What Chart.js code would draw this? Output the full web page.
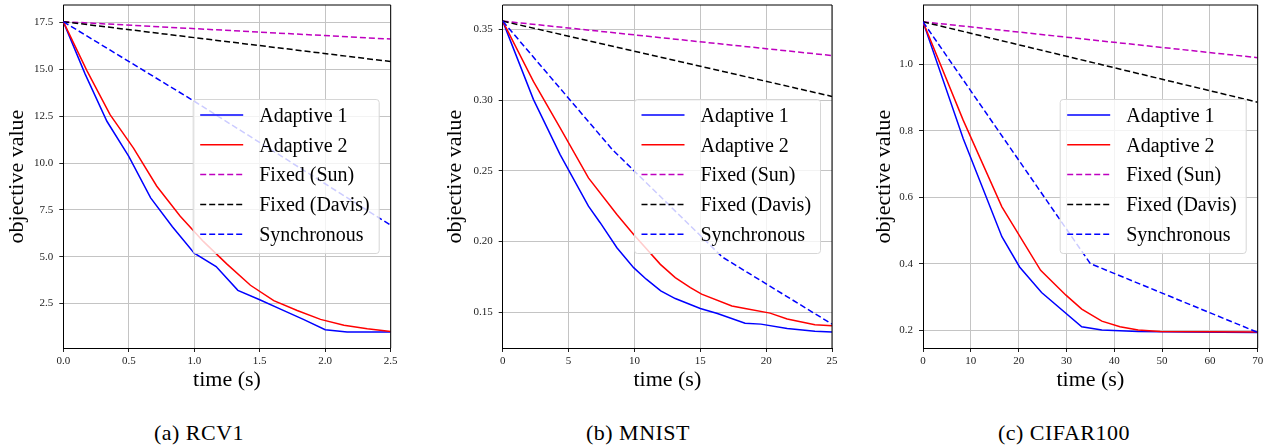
<!DOCTYPE html>
<html>
<head>
<meta charset="utf-8">
<script src="https://cdn.jsdelivr.net/npm/chart.js@4.4.1/dist/chart.umd.min.js"></script>
<style>
  body { margin: 0; background: #fff; width: 1270px; height: 447px; position: relative; overflow: hidden; }
  canvas { position: absolute; top: 0; }
  .caption { position: absolute; top: 420px; font: 22px "Liberation Serif", serif; letter-spacing: 0.5px; color: #000; transform: translateX(-50%); white-space: nowrap; }
</style>
</head>
<body>
<canvas id="rcv1" width="400" height="400" style="left:0px"></canvas>
<canvas id="mnist" width="402" height="400" style="left:438px"></canvas>
<canvas id="cifar" width="403" height="400" style="left:867px"></canvas>
<div class="caption" style="left:199px">(a) RCV1</div>
<div class="caption" style="left:638px">(b) MNIST</div>
<div class="caption" style="left:1064px">(c) CIFAR100</div>

<script>
const SERIES_LABELS = ['Adaptive 1', 'Adaptive 2', 'Fixed (Sun)', 'Fixed (Davis)', 'Synchronous'];

// (a) RCV1
const rcv1Adaptive1Time = [0, 0.167, 0.333, 0.5, 0.667, 0.833, 1.0, 1.167, 1.333, 1.5, 1.667, 1.833, 2.0, 2.167, 2.333, 2.5];
const rcv1Adaptive1 = [17.55, 14.75, 12.23, 10.36, 8.14, 6.6, 5.18, 4.47, 3.2, 2.7, 2.17, 1.65, 1.1, 0.97, 0.97, 0.97];
const rcv1Adaptive2Time = [0, 0.179, 0.357, 0.536, 0.714, 0.893, 1.071, 1.25, 1.429, 1.607, 1.786, 1.964, 2.143, 2.321, 2.5];
const rcv1Adaptive2 = [17.55, 14.95, 12.58, 10.8, 8.76, 7.16, 5.8, 4.6, 3.47, 2.65, 2.12, 1.65, 1.33, 1.15, 1.0];
const rcv1FixedTime = [0, 2.5];
const rcv1Sun = [17.55, 16.62];
const rcv1Davis = [17.55, 15.42];
const rcv1SyncTime = [0, 1.0, 2.5];
const rcv1Sync = [17.55, 13.3, 6.68];
const rcv1XTicks = ['0.0', '0.5', '1.0', '1.5', '2.0', '2.5'];
const rcv1YTicks = ['2.5', '5.0', '7.5', '10.0', '12.5', '15.0', '17.5'];
const rcv1XRange = [0, 2.5];
const rcv1YRange = [0.12, 18.44];

// (b) MNIST
const mnistAdaptive1Time = [0, 2.33, 4.36, 6.51, 7.4, 8.67, 9.94, 10.9, 12.0, 13.1, 15.0, 16.3, 18.4, 19.6, 21.6, 23.7, 25];
const mnistAdaptive1 = [0.356, 0.3006, 0.2615, 0.225, 0.2133, 0.1956, 0.1815, 0.1733, 0.165, 0.1596, 0.1526, 0.149, 0.1421, 0.1415, 0.1384, 0.1365, 0.136];
const mnistAdaptive2Time = [0, 2.33, 4.36, 6.51, 8.67, 9.94, 11.97, 13.1, 14.25, 15.1, 17.4, 18.4, 20.3, 21.6, 23.7, 25];
const mnistAdaptive2 = [0.356, 0.3133, 0.2804, 0.245, 0.2191, 0.205, 0.1838, 0.1744, 0.1674, 0.1627, 0.1544, 0.1526, 0.1493, 0.1451, 0.141, 0.1403];
const mnistFixedTime = [0, 25];
const mnistSun = [0.356, 0.3316];
const mnistDavis = [0.356, 0.3027];
const mnistSyncTime = [0, 8.33, 16.67, 25];
const mnistSync = [0.356, 0.265, 0.189, 0.1415];
const mnistXTicks = ['0', '5', '10', '15', '20', '25'];
const mnistYTicks = ['0.15', '0.20', '0.25', '0.30', '0.35'];
const mnistXRange = [0, 25];
const mnistYRange = [0.1246, 0.3674];

// (c) CIFAR100
const cifarAdaptive1Time = [0, 8.4, 16.5, 20.2, 24.8, 33.2, 37.4, 45, 55, 70];
const cifarAdaptive1 = [1.128, 0.777, 0.481, 0.39, 0.313, 0.21, 0.2, 0.196, 0.194, 0.193];
const cifarAdaptive2Time = [0, 8.4, 16.5, 24.6, 29.9, 33.2, 37.4, 41.2, 45, 49.6, 60, 70];
const cifarAdaptive2 = [1.128, 0.832, 0.571, 0.38, 0.305, 0.263, 0.227, 0.21, 0.2, 0.196, 0.195, 0.194];
const cifarFixedTime = [0, 70];
const cifarSun = [1.128, 1.02];
const cifarDavis = [1.128, 0.886];
const cifarSyncTime = [0, 35, 70];
const cifarSync = [1.128, 0.40, 0.193];
const cifarXTicks = ['0', '10', '20', '30', '40', '50', '60', '70'];
const cifarYTicks = ['0.2', '0.4', '0.6', '0.8', '1.0'];
const cifarXRange = [0, 70];
const cifarYRange = [0.146, 1.1786];

const SERIES_STYLE = [
  { color: '#0000ff', dash: [] },
  { color: '#ff0000', dash: [] },
  { color: '#bf00bf', dash: [6, 3] },
  { color: '#000000', dash: [6, 3] },
  { color: '#0000ff', dash: [6, 3] }
];

const SERIF = '"Liberation Serif", "Times New Roman", serif';

// matplotlib-like box legend (center right) plus the top/right spines
const boxPlugin = {
  id: 'boxLegend',
  afterDatasetsDraw(chart) {
    const { ctx, chartArea: a } = chart;
    const w = 186, h = 154;
    const x0 = a.right - 11.5 - w;
    const y0 = (a.top + a.bottom) / 2 - h / 2;
    ctx.save();
    ctx.beginPath();
    ctx.roundRect(x0, y0, w, h, 3);
    ctx.fillStyle = 'rgba(255,255,255,0.8)';
    ctx.fill();
    ctx.strokeStyle = '#d6d6d6';
    ctx.lineWidth = 1;
    ctx.stroke();

    chart.data.datasets.forEach((ds, i) => {
      const y = y0 + 15.5 + i * 29.8;
      ctx.beginPath();
      ctx.setLineDash(ds.borderDash);
      ctx.strokeStyle = ds.borderColor;
      ctx.lineWidth = 1.5;
      ctx.moveTo(x0 + 7, y);
      ctx.lineTo(x0 + 50, y);
      ctx.stroke();
      ctx.setLineDash([]);
      ctx.fillStyle = '#000';
      ctx.font = '20px ' + SERIF;
      ctx.textBaseline = 'middle';
      ctx.fillText(ds.label, x0 + 66, y + 1.5);
    });

    ctx.strokeStyle = '#000';
    ctx.lineWidth = 1;
    ctx.beginPath();
    ctx.moveTo(a.left, a.top);
    ctx.lineTo(a.right, a.top);
    ctx.lineTo(a.right, a.bottom);
    ctx.stroke();
    ctx.restore();
  }
};

function buildDatasets(series) {
  return series.map(([time, values], i) => ({
    label: SERIES_LABELS[i],
    data: time.map((t, k) => ({ x: t, y: values[k] })),
    borderColor: SERIES_STYLE[i].color,
    borderDash: SERIES_STYLE[i].dash,
    borderWidth: 1.5,
    pointRadius: 0,
    tension: 0,
    fill: false,
    order: series.length - 1 - i
  }));
}

function makeAxis(tickLabels, range, title, isX, size) {
  return {
    type: 'linear',
    min: range[0],
    max: range[1],
    afterBuildTicks: (scale) => {
      scale.ticks = tickLabels.map(l => ({ value: parseFloat(l) }));
    },
    afterFit: (scale) => {
      if (isX) scale.height = size; else scale.width = size;
      scale.paddingLeft = 0;
      scale.paddingRight = 0;
      scale.paddingTop = 0;
      scale.paddingBottom = 0;
    },
    ticks: {
      autoSkip: false,
      maxRotation: 0,
      padding: isX ? 3 : 6,
      color: '#222',
      font: { family: SERIF, size: 11 },
      callback: (value, index) => tickLabels[index]
    },
    grid: {
      color: '#c4c4c4',
      lineWidth: 1,
      tickLength: 4,
      tickColor: '#222'
    },
    border: { display: true, color: '#000', width: 1 },
    title: {
      display: true,
      text: title,
      color: '#000',
      font: { family: SERIF, size: 22 },
      padding: { top: 4, bottom: 4 }
    }
  };
}

function makeChart(id, series, xTicks, yTicks, xRange, yRange, yAxisWidth, rightPad) {
  const ctx = document.getElementById(id).getContext('2d');
  return new Chart(ctx, {
    type: 'line',
    data: { datasets: buildDatasets(series) },
    options: {
      responsive: false,
      animation: false,
      devicePixelRatio: 1,
      parsing: true,
      layout: { padding: { top: 5, left: 0, right: rightPad, bottom: 2.8 } },
      plugins: { legend: { display: false }, tooltip: { enabled: false } },
      scales: {
        x: makeAxis(xTicks, xRange, 'time (s)', true, 49.2),
        y: makeAxis(yTicks, yRange, 'objective value', false, yAxisWidth)
      }
    },
    plugins: [boxPlugin]
  });
}

document.addEventListener('DOMContentLoaded', () => {
  makeChart('rcv1', [
    [rcv1Adaptive1Time, rcv1Adaptive1],
    [rcv1Adaptive2Time, rcv1Adaptive2],
    [rcv1FixedTime, rcv1Sun],
    [rcv1FixedTime, rcv1Davis],
    [rcv1SyncTime, rcv1Sync]
  ], rcv1XTicks, rcv1YTicks, rcv1XRange, rcv1YRange, 63.3, 9.3);

  makeChart('mnist', [
    [mnistAdaptive1Time, mnistAdaptive1],
    [mnistAdaptive2Time, mnistAdaptive2],
    [mnistFixedTime, mnistSun],
    [mnistFixedTime, mnistDavis],
    [mnistSyncTime, mnistSync]
  ], mnistXTicks, mnistYTicks, mnistXRange, mnistYRange, 64.7, 8);

  makeChart('cifar', [
    [cifarAdaptive1Time, cifarAdaptive1],
    [cifarAdaptive2Time, cifarAdaptive2],
    [cifarFixedTime, cifarSun],
    [cifarFixedTime, cifarDavis],
    [cifarSyncTime, cifarSync]
  ], cifarXTicks, cifarYTicks, cifarXRange, cifarYRange, 56, 12.3);
});
</script>
</body>
</html>
